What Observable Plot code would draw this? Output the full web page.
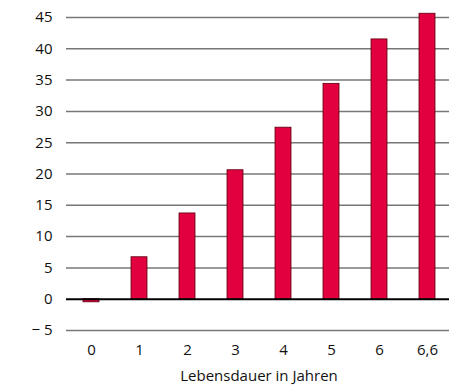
<!DOCTYPE html>
<html><head><meta charset="utf-8">
<script src="https://cdn.jsdelivr.net/npm/d3@7"></script>
<script src="https://cdn.jsdelivr.net/npm/@observablehq/plot@0.6"></script>
<style>body{margin:0;background:#fff}</style>
</head><body><div id="chart"></div>
<script>
const categories = ["0","1","2","3","4","5","6","6,6"];
const values = [-0.5, 6.7, 13.7, 20.6, 27.4, 34.4, 41.5, 45.6];
const yTicks = [-5,0,5,10,15,20,25,30,35,40,45];
const xLabel = "Lebensdauer in Jahren";

const data = categories.map((c,i)=>({cat:c, v:values[i]}));
const fmt = d => d < 0 ? "\u2212 " + (-d) : String(d);

const chart = Plot.plot({
  width: 449, height: 388,
  marginLeft: 66, marginRight: -2, marginTop: 17, marginBottom: 58,
  style: {fontFamily: "'Open Sans', sans-serif", fontSize: "15px", color: "#111", overflow: "visible"},
  x: {domain: categories, paddingInner: 0.67, paddingOuter: 0.33, label: null, tickSize: 0, tickPadding: 14},
  y: {domain: [-5, 45], ticks: yTicks, label: null, tickSize: 0, tickPadding: 14, tickFormat: fmt},
  marks: [
    Plot.ruleY(yTicks.filter(d=>d!==0), {stroke: "#777", strokeWidth: 1.5}),
    Plot.barY(data, {x: "cat", y: "v", fill: "#e2003e", stroke: "#5a0010", strokeWidth: 0.8}),
    Plot.ruleY([0], {stroke: "#000", strokeWidth: 2}),
    Plot.axisY({ticks: yTicks, tickFormat: fmt, tickSize: 0, tickPadding: 14, label: null, fontSize: 15}),
    Plot.axisX({tickSize: 0, tickPadding: 14, label: null, fontSize: 15}),
    Plot.text([xLabel], {frameAnchor: "bottom", dy: 50, fontSize: 15})
  ]
});
document.getElementById("chart").append(chart);
</script></body></html>
